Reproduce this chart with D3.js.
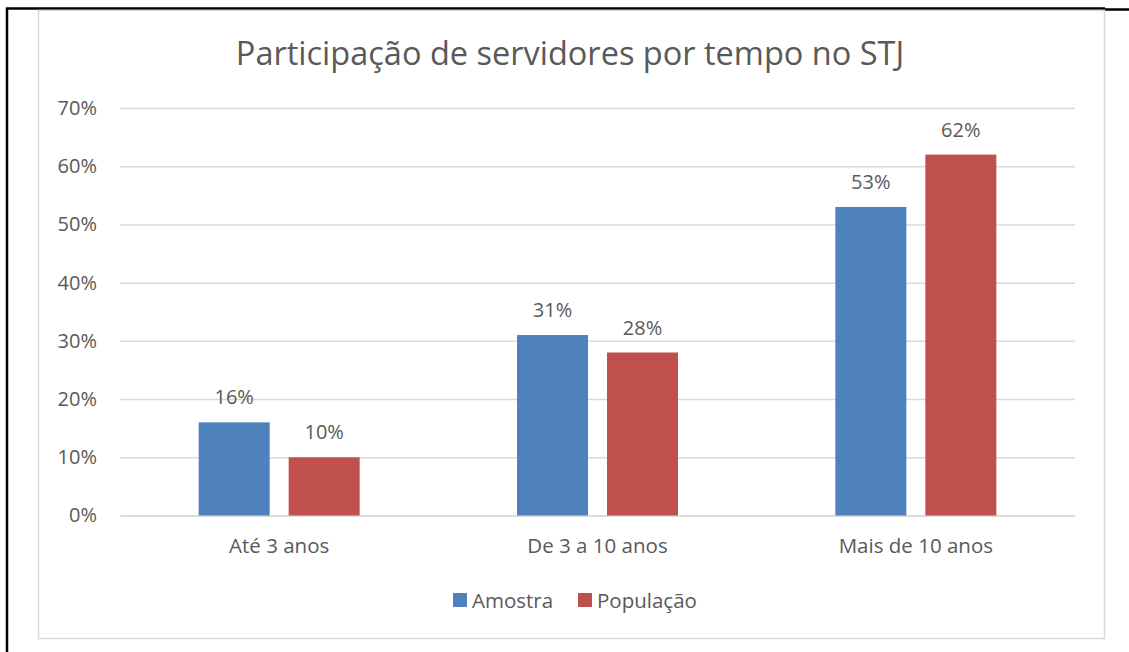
<!DOCTYPE html>
<html><head><meta charset="utf-8">
<script src="https://cdn.jsdelivr.net/npm/d3@7"></script>
<style>body{margin:0;background:#fff;} svg{display:block;} text{font-family:"Open Sans","Noto Sans",sans-serif;fill:#595959;}</style>
</head><body><svg id="c" width="1129" height="652"></svg>
<script>
const categories = ["Até 3 anos", "De 3 a 10 anos", "Mais de 10 anos"];
const seriesNames = ["Amostra", "População"];
const amostra = [0.16, 0.31, 0.53];
const populacao = [0.10, 0.28, 0.62];
const yTicks = [0, 0.1, 0.2, 0.3, 0.4, 0.5, 0.6, 0.7];
const colors = ["#4F81BD", "#C0504D"];
const title = "Participação de servidores por tempo no STJ";

const svg = d3.select("#c");
// outer document cell border
svg.append("path").attr("d","M7,652 V8.5 H1105 M1105,9.5 H1129").attr("stroke","#000").attr("stroke-width",2.5).attr("fill","none");
// chart frame
svg.append("rect").attr("x",38.5).attr("y",10.5).attr("width",1066).attr("height",628).attr("fill","#fff").attr("stroke","#d9d9d9").attr("stroke-width",1.5);

const x0 = d3.scaleBand().domain(categories).range([120,1075]).paddingInner(0).paddingOuter(0);
const bw = x0.bandwidth();
const x1 = d3.scaleBand().domain(seriesNames).range([bw/2-80.5, bw/2+80.5]).paddingInner(0.211).paddingOuter(0);
const y = d3.scaleLinear().domain([0,0.7]).range([515.5,108]);

const yAxis = d3.axisLeft(y).tickValues(yTicks).tickFormat(d3.format(".0%")).tickSize(-(1075-120)).tickPadding(23);
const gy = svg.append("g").attr("transform","translate(120,0)").call(yAxis);
gy.select(".domain").remove();
gy.selectAll(".tick line").attr("stroke","#d9d9d9").attr("stroke-width",1.5);
gy.selectAll(".tick text").attr("font-size",20).style("fill","#595959");

const xAxis = d3.axisBottom(x0).tickSize(0).tickPadding(23);
const gx = svg.append("g").attr("transform","translate(0,515.5)").call(xAxis);
gx.select(".domain").attr("stroke","#d9d9d9").attr("stroke-width",1.5);
gx.selectAll(".tick text").attr("font-size",20.5).style("fill","#595959");

const data = categories.map((c,i)=>({cat:c, vals:[{s:seriesNames[0],v:amostra[i]},{s:seriesNames[1],v:populacao[i]}]}));
const g = svg.append("g");
const cg = g.selectAll("g.cat").data(data).enter().append("g").attr("transform",d=>`translate(${x0(d.cat)},0)`);
cg.selectAll("rect").data(d=>d.vals).enter().append("rect")
  .attr("x",d=>x1(d.s)).attr("width",x1.bandwidth())
  .attr("y",d=>y(d.v)).attr("height",d=>y(0)-y(d.v))
  .attr("fill",(d,i)=>colors[i]);
cg.selectAll("text.lbl").data(d=>d.vals).enter().append("text").attr("class","lbl")
  .attr("x",d=>x1(d.s)+x1.bandwidth()/2).attr("y",d=>y(d.v)-18)
  .attr("text-anchor","middle").attr("font-size",20).text(d=>d3.format(".0%")(d.v));

svg.append("text").attr("x",570).attr("y",65).attr("text-anchor","middle").attr("font-size",32.5).text(title);

// legend
const legX = [453, 578];
const lg = svg.append("g");
seriesNames.forEach((s,i)=>{
  lg.append("rect").attr("x",legX[i]).attr("y",593).attr("width",14).attr("height",14).attr("fill",colors[i]);
  lg.append("text").attr("x",legX[i]+19).attr("y",607.5).attr("font-size",20.5).text(s);
});
</script></body></html>
